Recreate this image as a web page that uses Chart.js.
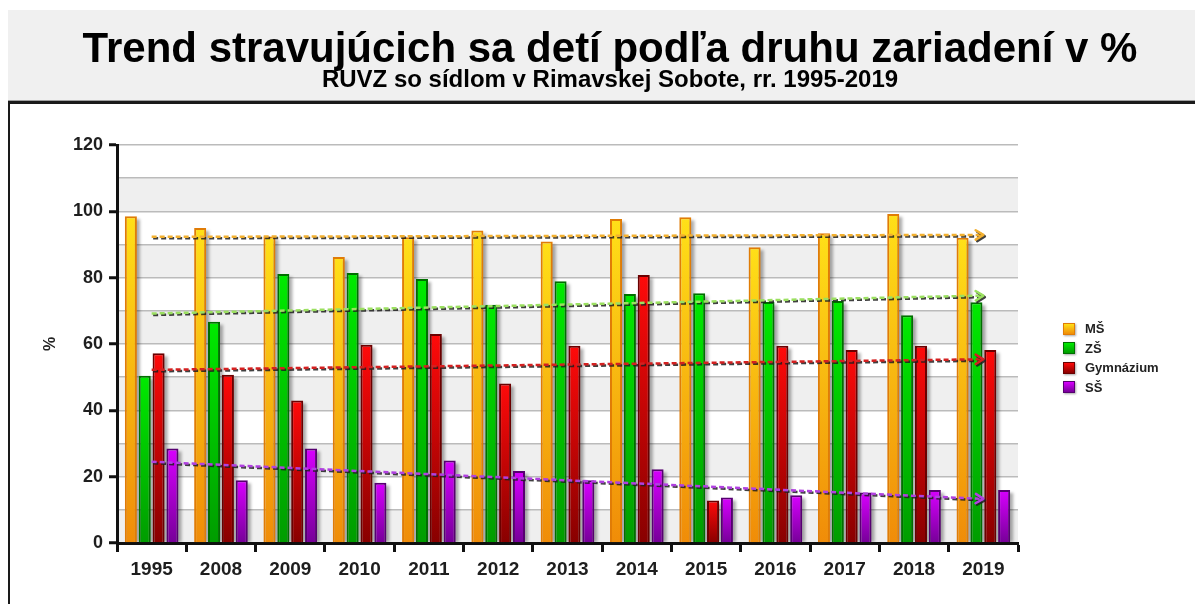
<!DOCTYPE html>
<html>
<head>
<meta charset="utf-8">
<script src="https://cdn.jsdelivr.net/npm/chart.js@4.4.1/dist/chart.umd.min.js"></script>
<style>
  html, body { margin:0; padding:0; background:#fff; width:1195px; height:604px; overflow:hidden;
    font-family:"Liberation Sans", Arial, Helvetica, sans-serif; }
  #frame { position:absolute; left:8px; top:101px; width:1200px; height:520px;
    border-top:3px solid #1a1a1a; border-left:2px solid #1a1a1a; z-index:0; }
  #header { position:absolute; left:8px; top:10px; width:1200px; height:90px; background:#f0f0f0;
    border-bottom:1px solid #a0a0a0; z-index:2; }
  #title { position:absolute; left:0; top:26.5px; width:1220px; text-align:center; font-weight:bold;
    font-size:42px; line-height:42px; color:#000; white-space:nowrap; z-index:3; }
  #subtitle { position:absolute; left:0; top:67px; width:1220px; text-align:center; font-weight:bold;
    font-size:24px; line-height:24px; color:#000; white-space:nowrap; z-index:3; }
  #wrap { position:absolute; left:0; top:0; width:1195px; height:604px; z-index:1; }
  #legend { position:absolute; left:1063px; top:319px; z-index:3; }
  .row { display:flex; align-items:center; height:19.5px; }
  .sw { width:12px; height:12px; box-sizing:border-box; margin-right:10px; box-shadow:1px 1px 2px rgba(0,0,0,0.35); }
  .lab { font-size:13px; font-weight:bold; color:#222; }
</style>
</head>
<body>
<div id="frame"></div>
<div id="header"></div>
<div id="title">Trend stravujúcich sa detí podľa druhu zariadení v %</div>
<div id="subtitle">RUVZ so sídlom v Rimavskej Sobote, rr. 1995-2019</div>
<div id="wrap"><canvas id="c" width="1195" height="604"></canvas></div>
<div id="legend"></div>
<script>
// ---------- data ----------
const categories = ['1995','2008','2009','2010','2011','2012','2013','2014','2015','2016','2017','2018','2019'];
const seriesNames = ['MŠ','ZŠ','Gymnázium','SŠ'];
const valuesMS  = [98.5, 95.0, 92.4, 86.2, 92.2, 94.2, 90.9, 97.7, 98.2, 89.2, 93.4, 99.2, 92.0];
const valuesZS  = [50.4, 66.7, 81.1, 81.4, 79.6, 71.8, 78.9, 75.1, 75.3, 72.7, 73.0, 68.7, 72.6];
const valuesGym = [57.2, 50.7, 43.0, 59.8, 63.0, 48.1, 59.5, 80.8, 12.8, 59.5, 58.2, 59.5, 58.2];
const valuesSS  = [28.5, 18.9, 28.5, 18.2, 24.9, 21.7, 18.9, 22.2, 13.7, 14.4, 15.2, 16.0, 16.0];
// trend lines: value at first and last category
const trendMS  = [92.3, 92.9];
const trendZS  = [69.2, 74.6];
const trendGym = [52.2, 55.4];
const trendSS  = [24.5, 13.3];
const yLabelStep = 20;
const bandStarts = [0, 20, 40, 60, 80, 100];

// ---------- styles ----------
const FONT = '"Liberation Sans", Arial, Helvetica, sans-serif';
const barStyles = [
  { top:'#FFE018', bottom:'#F08C08', border:'#E07C06' },
  { top:'#00EA00', bottom:'#009C00', border:'#006E00' },
  { top:'#FF0A0A', bottom:'#880000', border:'#6A0000' },
  { top:'#D800FF', bottom:'#760098', border:'#560070' }
];
const trendColors = ['#F2B030', '#9BE060', '#D42020', '#B040E0'];

function gradientFor(style) {
  return (c) => {
    const chart = c.chart;
    if (c.type !== 'data' || !chart.chartArea || !chart.scales.y) return style.top;
    const ys = chart.scales.y;
    const yTop = ys.getPixelForValue(c.raw);
    const yBase = ys.getPixelForValue(0);
    if (!isFinite(yTop) || !isFinite(yBase) || yBase - yTop < 1) return style.top;
    const g = chart.ctx.createLinearGradient(0, yTop, 0, yBase);
    g.addColorStop(0, style.top);
    g.addColorStop(1, style.bottom);
    return g;
  };
}

const seriesValues = [valuesMS, valuesZS, valuesGym, valuesSS];
const trends = [trendMS, trendZS, trendGym, trendSS];

const barDatasets = seriesValues.map((vals, i) => ({
  type: 'bar',
  label: seriesNames[i],
  data: vals,
  backgroundColor: gradientFor(barStyles[i]),
  borderColor: barStyles[i].border,
  borderWidth: 2,
  borderSkipped: 'start',
  categoryPercentage: 0.8,
  barPercentage: 0.87,
  order: 2
}));

const lineDatasets = trends.map((t, i) => {
  const d = categories.map(() => null);
  d[0] = t[0];
  d[d.length - 1] = t[1];
  return {
    type: 'line',
    label: seriesNames[i] + ' trend',
    data: d,
    spanGaps: true,
    borderColor: trendColors[i],
    borderWidth: 2.5,
    borderDash: [5, 3],
    pointRadius: 0,
    fill: false,
    order: 1,
    isTrend: true
  };
});

// ---------- plugins ----------
const bandsPlugin = {
  id: 'bands',
  beforeDraw(chart) {
    const { ctx, chartArea: ca, scales: { y } } = chart;
    ctx.save();
    ctx.fillStyle = '#efefef';
    bandStarts.forEach(v => {
      const y1 = y.getPixelForValue(v + 10), y0 = y.getPixelForValue(v);
      ctx.fillRect(ca.left, y1, ca.right - ca.left, y0 - y1);
    });
    ctx.restore();
  }
};

const barShadowPlugin = {
  id: 'barShadow',
  beforeDatasetsDraw(chart) {
    const ctx = chart.ctx;
    ctx.save();
    ctx.fillStyle = 'rgba(0,0,0,0.32)';
    ctx.filter = 'blur(1.5px)';
    chart.data.datasets.forEach((ds, di) => {
      if (ds.type !== 'bar') return;
      const meta = chart.getDatasetMeta(di);
      meta.data.forEach(el => {
        const p = el.getProps(['x', 'y', 'base', 'width'], true);
        ctx.fillRect(p.x - p.width / 2 + 3, p.y + 3, p.width, p.base - p.y - 3);
      });
    });
    ctx.restore();
  }
};

const trendPlugin = {
  id: 'trendDeco',
  beforeDatasetDraw(chart, args) {
    const ds = chart.data.datasets[args.index];
    if (!ds.isTrend) return;
    const ctx = chart.ctx;
    ctx.save();
    ctx.shadowColor = 'rgba(30,30,30,0.85)';
    ctx.shadowOffsetX = 1.5;
    ctx.shadowOffsetY = 1.5;
    ctx.shadowBlur = 0.5;
  },
  afterDatasetDraw(chart, args) {
    const ds = chart.data.datasets[args.index];
    if (!ds.isTrend) return;
    const ctx = chart.ctx;
    const meta = chart.getDatasetMeta(args.index);
    const a = meta.data[0], b = meta.data[meta.data.length - 1];
    const ang = Math.atan2(b.y - a.y, b.x - a.x);
    const L = 9, spread = 0.55;
    ctx.setLineDash([]);
    ctx.strokeStyle = ds.borderColor;
    ctx.lineWidth = 2.5;
    ctx.lineCap = 'round';
    ctx.lineJoin = 'round';
    ctx.beginPath();
    ctx.moveTo(b.x - L * Math.cos(ang - spread), b.y - L * Math.sin(ang - spread));
    ctx.lineTo(b.x, b.y);
    ctx.lineTo(b.x - L * Math.cos(ang + spread), b.y - L * Math.sin(ang + spread));
    ctx.stroke();
    ctx.restore();
  }
};

// ---------- chart ----------
new Chart(document.getElementById('c'), {
  data: { labels: categories, datasets: [...barDatasets, ...lineDatasets] },
  options: {
    responsive: false,
    animation: false,
    devicePixelRatio: 1,
    layout: { padding: { left: 0, top: 145, right: 177, bottom: 16 } },
    plugins: { legend: { display: false }, tooltip: { enabled: false }, title: { display: false } },
    scales: {
      x: {
        offset: true,
        grid: { offset: true, drawOnChartArea: false, drawTicks: true, tickLength: 9,
                tickColor: '#111', tickWidth: 3, color: '#111' },
        border: { display: true, color: '#111', width: 3 },
        ticks: { font: { family: FONT, size: 19, weight: 'bold' }, color: '#1e1e1e',
                 padding: 6, maxRotation: 0, autoSkip: false },
        afterFit: s => { s.height = 45; }
      },
      y: {
        min: 0, max: 120,
        ticks: { stepSize: 10, autoSkip: false,
                 callback: v => (v % yLabelStep === 0 ? v : ''),
                 font: { family: FONT, size: 18, weight: 'bold' }, color: '#1e1e1e', padding: 6 },
        grid: { color: '#bbbbbb', lineWidth: 1.5, tickLength: 8,
                tickColor: c => (c.tick && c.tick.value % yLabelStep === 0 ? '#111' : 'rgba(0,0,0,0)'),
                tickWidth: 3 },
        border: { display: true, color: '#111', width: 3 },
        title: { display: true, text: '%', font: { family: FONT, size: 16, weight: 'bold' },
                 color: '#222', padding: { top: 41, bottom: 0 } },
        afterFit: s => { s.width = 117; }
      }
    }
  },
  plugins: [bandsPlugin, barShadowPlugin, trendPlugin]
});

// ---------- legend (HTML) ----------
const legend = document.getElementById('legend');
seriesNames.forEach((name, i) => {
  const row = document.createElement('div');
  row.className = 'row';
  const sw = document.createElement('div');
  sw.className = 'sw';
  sw.style.background = 'linear-gradient(' + barStyles[i].top + ',' + barStyles[i].bottom + ')';
  sw.style.border = '1px solid ' + barStyles[i].border;
  const lab = document.createElement('span');
  lab.className = 'lab';
  lab.textContent = name;
  row.appendChild(sw);
  row.appendChild(lab);
  legend.appendChild(row);
});
</script>
</body>
</html>
